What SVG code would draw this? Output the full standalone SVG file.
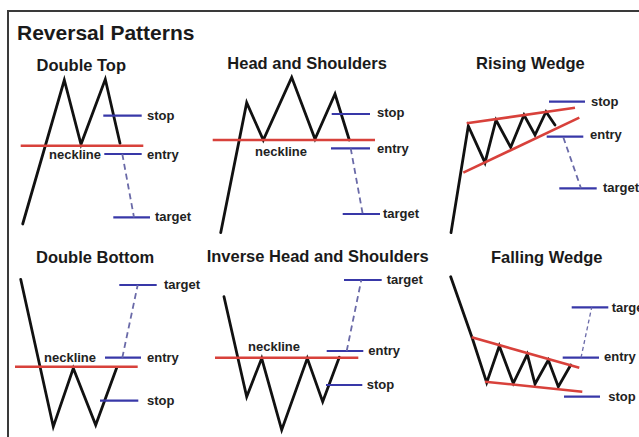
<svg xmlns="http://www.w3.org/2000/svg" width="639" height="437" viewBox="0 0 639 437">
<style>
.title{font-family:"Liberation Sans",Arial,sans-serif;font-weight:bold;font-size:21px;fill:#1a1a1a}
.sub{font-family:"Liberation Sans",Arial,sans-serif;font-weight:bold;font-size:16.5px;fill:#1a1a1a}
.lbl{font-family:"Liberation Sans",Arial,sans-serif;font-weight:bold;font-size:13px;fill:#222}
.price{fill:none;stroke:#111;stroke-width:2.8;stroke-linejoin:miter;stroke-linecap:round}
.neck{stroke:#d8413b;stroke-width:2.6;fill:none}
.lvl{stroke:#3838a8;stroke-width:2.2;fill:none}
.proj{stroke:#6a6aa8;stroke-width:1.8;stroke-dasharray:6 4;fill:none}
</style>
<rect x="0" y="0" width="639" height="437" fill="#fff"/>
<path d="M8,445 L8,11 L650,11" fill="none" stroke="#3a3a3a" stroke-width="2"/>
<text class="title" x="17" y="40">Reversal Patterns</text>

<g id="double-top">
<text class="sub" x="36.5" y="71">Double Top</text>
<polyline class="price" points="22.7,224 64.3,80 81,144.3 105.3,79.3 120,143.3"/>
<line class="neck" x1="20.7" y1="145.7" x2="143.3" y2="145.7"/>
<line class="lvl" x1="103.3" y1="115.7" x2="141.7" y2="115.7"/>
<line class="lvl" x1="104.3" y1="154" x2="141.7" y2="154"/>
<line class="lvl" x1="113.3" y1="217.3" x2="150" y2="217.3"/>
<text class="lbl" x="147" y="119.5">stop</text>
<text class="lbl" x="147" y="158.5">entry</text>
<text class="lbl" x="49" y="158.5">neckline</text>
<text class="lbl" x="155" y="221">target</text>
</g>

<g id="head-and-shoulders">
<text class="sub" x="227.3" y="69.3">Head and Shoulders</text>
<polyline class="price" points="220.7,232.7 246.7,102.7 263.3,140 291.7,77.3 315,139 335,94 349.3,140"/>
<line class="neck" x1="212.7" y1="140" x2="375" y2="140"/>
<line class="lvl" x1="331.7" y1="114" x2="370" y2="114"/>
<line class="lvl" x1="331" y1="148.3" x2="370" y2="148.3"/>
<line class="lvl" x1="342.7" y1="214" x2="380" y2="214"/>
<text class="lbl" x="377" y="117">stop</text>
<text class="lbl" x="377" y="153">entry</text>
<text class="lbl" x="255" y="155.5">neckline</text>
<text class="lbl" x="383" y="217.5">target</text>
</g>

<g id="rising-wedge">
<text class="sub" x="476" y="69.3">Rising Wedge</text>
<polyline class="price" points="451,232.7 468.3,126 485,162.7 496,120 510.7,147.3 524,115 535,135 546,111.7 555,125"/>
<line class="neck" x1="466.7" y1="123.3" x2="575" y2="107.7"/>
<line class="neck" x1="463.3" y1="172.7" x2="579.3" y2="117.7"/>
<line class="lvl" x1="549" y1="101.7" x2="585" y2="101.7"/>
<line class="lvl" x1="546.7" y1="136.7" x2="583.3" y2="136.7"/>
<line class="lvl" x1="559.3" y1="188.3" x2="596.7" y2="188.3"/>
<text class="lbl" x="591" y="105.5">stop</text>
<text class="lbl" x="590" y="139">entry</text>
<text class="lbl" x="603" y="192">target</text>
</g>

<g id="double-bottom">
<text class="sub" x="36" y="263.3">Double Bottom</text>
<polyline class="price" points="20.7,279.3 53.3,426.7 73.3,368.3 95.7,425 116.7,367.7"/>
<line class="neck" x1="15" y1="366.7" x2="137.7" y2="366.7"/>
<line class="lvl" x1="105" y1="357.7" x2="141" y2="357.7"/>
<line class="lvl" x1="100" y1="400.7" x2="138.3" y2="400.7"/>
<line class="lvl" x1="119.3" y1="285" x2="156.7" y2="285"/>
<text class="lbl" x="44" y="362.3">neckline</text>
<text class="lbl" x="147" y="362">entry</text>
<text class="lbl" x="147" y="405">stop</text>
<text class="lbl" x="164" y="289.3">target</text>
</g>

<g id="inverse-head-and-shoulders">
<text class="sub" x="206.7" y="261.7">Inverse Head and Shoulders</text>
<polyline class="price" points="224,296.7 246.7,396.7 261.7,358.3 281.7,430 307.3,358.3 322.7,401.7 339.3,357.3"/>
<line class="neck" x1="215" y1="357.7" x2="358.3" y2="357.7"/>
<line class="lvl" x1="326.7" y1="351" x2="363.3" y2="351"/>
<line class="lvl" x1="326" y1="385" x2="362.3" y2="385"/>
<line class="lvl" x1="344" y1="280" x2="381.7" y2="280"/>
<text class="lbl" x="248" y="350.7">neckline</text>
<text class="lbl" x="368.3" y="355">entry</text>
<text class="lbl" x="366.7" y="389.3">stop</text>
<text class="lbl" x="386.7" y="283.5">target</text>
</g>

<g id="falling-wedge">
<text class="sub" x="491" y="263.3">Falling Wedge</text>
<polyline class="price" points="450.7,276.7 472.3,338.3 486.7,382.7 499.3,346 513.3,383.3 527.3,354.3 535,384 548.3,360 558.3,386.7 570.7,365"/>
<line class="neck" x1="471.7" y1="337.3" x2="579.3" y2="367.7"/>
<line class="neck" x1="485" y1="381.7" x2="582.3" y2="391.7"/>
<line class="lvl" x1="571.7" y1="307.3" x2="608.3" y2="307.3"/>
<line class="lvl" x1="562.7" y1="357.7" x2="599" y2="357.7"/>
<line class="lvl" x1="564" y1="396.7" x2="600" y2="396.7"/>
<text class="lbl" x="611.7" y="311.7">target</text>
<text class="lbl" x="604" y="360.7">entry</text>
<text class="lbl" x="608.3" y="400.7">stop</text>
</g>

<g id="connectors">
<line class="proj" x1="122.3" y1="154" x2="134" y2="217.3"/>
<line class="proj" x1="350.7" y1="148.3" x2="362.7" y2="214"/>
<line class="proj" x1="563.3" y1="137.3" x2="581" y2="188.3"/>
<line class="proj" x1="122.3" y1="357.7" x2="137.7" y2="285"/>
<line class="proj" x1="346.7" y1="351" x2="361.3" y2="280"/>
<line class="proj" x1="581" y1="357.7" x2="591.7" y2="307.3" style="stroke-width:1.3;stroke-dasharray:4 3"/>
</g>
</svg>
